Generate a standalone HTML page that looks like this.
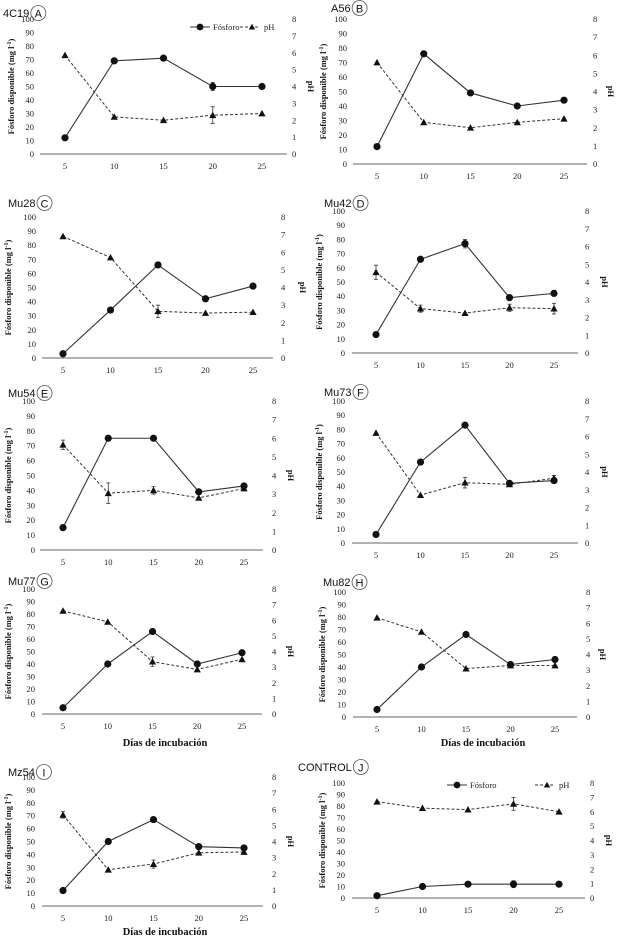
<!DOCTYPE html>
<html><head><meta charset="utf-8"><style>
html,body{margin:0;padding:0;background:#fff;}
svg{display:block;}
.t{font-family:"Liberation Serif",serif;font-size:8.5px;fill:#222;}
.ti{font-family:"Liberation Sans",sans-serif;font-size:11px;fill:#111;}
.ax{font-family:"Liberation Serif",serif;font-size:8.5px;font-weight:bold;fill:#111;}
.xl{font-family:"Liberation Serif",serif;font-size:10.5px;font-weight:bold;fill:#111;}
</style></head><body>
<svg id="fig" width="620" height="943" viewBox="0 0 620 943" xmlns="http://www.w3.org/2000/svg"></svg>
<script>
const days=[5,10,15,20,25];
const pTicks=[0,10,20,30,40,50,60,70,80,90,100];
const phTicks=[0,1,2,3,4,5,6,7,8];
const pA=[12,69,71,50,50];   const phA=[5.85,2.2,2.0,2.3,2.4];
const pB=[12,76,49,40,44];   const phB=[5.6,2.3,2.0,2.3,2.5];
const pC=[3,34,66,42,51];    const phC=[6.9,5.7,2.65,2.55,2.6];
const pD=[13,66,77,39,42];   const phD=[4.55,2.5,2.25,2.55,2.5];
const pE=[15,75,75,39,43];   const phE=[5.65,3.05,3.2,2.8,3.3];
const pF=[6,57,83,42,44];    const phF=[6.2,2.7,3.4,3.3,3.65];
const pG=[5,40,66,40,49];    const phG=[6.6,5.9,3.35,2.85,3.5];
const pH_=[6,40,66,42,46];   const phH=[6.35,5.45,3.1,3.3,3.3];
const pI=[12,50,67,46,45];   const phI=[5.65,2.25,2.6,3.3,3.35];
const pJ=[2,10,12,12,12];    const phJ=[6.7,6.25,6.15,6.55,6.0];
const errPA=[0,0,0,3,0];     const errPhA=[0,0,0,0.5,0];
const errPD=[0,0,3,0,2];     const errPhD=[0.4,0.2,0,0.2,0.3];
const errPhE=[0.25,0.55,0.2,0,0.1];
const errPhF=[0,0,0.3,0,0.15];
const errPhC=[0,0,0.35,0,0];
const errPhG=[0,0,0.3,0,0];
const errPhI=[0.2,0,0.25,0,0];
const errPJ=[0,0,0,3,0];     const errPhJ=[0,0,0,0.45,0];

const panels=[
 {id:'a',name:'4C19',L:'A',p:pA,ph:phA,ep:errPA,eh:errPhA,top:19,bot:154,x5:65,x25:262,axL:40,axR:287,lblL:34,lblR:292,yt:14,pht:308,tx:3,ty:17,legend:[190,27]},
 {id:'b',name:'A56',L:'B',p:pB,ph:phB,top:19,bot:164,x5:377,x25:564,axL:353,axR:587,lblL:347,lblR:593,yt:326,pht:608,tx:331,ty:12},
 {id:'c',name:'Mu28',L:'C',p:pC,ph:phC,eh:errPhC,top:217,bot:358,x5:63,x25:253,axL:42,axR:273,lblL:36,lblR:281,yt:11,pht:300,tx:8,ty:207},
 {id:'d',name:'Mu42',L:'D',p:pD,ph:phD,ep:errPD,eh:errPhD,top:211,bot:353,x5:376,x25:554,axL:352,axR:578,lblL:345,lblR:585,yt:322,pht:602,tx:324,ty:207},
 {id:'e',name:'Mu54',L:'E',p:pE,ph:phE,eh:errPhE,top:401,bot:550,x5:63,x25:244,axL:40,axR:263,lblL:35,lblR:272,yt:11,pht:288,tx:8,ty:397},
 {id:'f',name:'Mu73',L:'F',p:pF,ph:phF,eh:errPhF,top:401,bot:543,x5:376,x25:554,axL:352,axR:578,lblL:345,lblR:585,yt:322,pht:602,tx:324,ty:396},
 {id:'g',name:'Mu77',L:'G',p:pG,ph:phG,eh:errPhG,top:589,bot:714,x5:63,x25:242,axL:42,axR:262,lblL:35,lblR:272,yt:11,pht:288,tx:8,ty:585,xl:[165,746]},
 {id:'h',name:'Mu82',L:'H',p:pH_,ph:phH,top:592,bot:717,x5:377,x25:555,axL:353,axR:577,lblL:346,lblR:586,yt:325,pht:600,tx:323,ty:586,xl:[483,746]},
 {id:'i',name:'Mz54',L:'I',p:pI,ph:phI,eh:errPhI,top:777,bot:906,x5:63,x25:244,axL:42,axR:263,lblL:35,lblR:272,yt:11,pht:288,tx:8,ty:776,xl:[165,935]},
 {id:'j',name:'CONTROL',L:'J',p:pJ,ph:phJ,ep:errPJ,eh:errPhJ,top:783,bot:898,x5:377,x25:559,axL:352,axR:585,lblL:345,lblR:590,yt:325,pht:606,tx:298,ty:771,legend:[447,785]}
];
const NS='http://www.w3.org/2000/svg';
const svg=document.getElementById('fig');
function mk(tag,attrs,parent,text){const e=document.createElementNS(NS,tag);for(const k in attrs)e.setAttribute(k,attrs[k]);if(text!==undefined)e.textContent=text;(parent||svg).appendChild(e);return e;}
function tri(g,x,y,s){return mk('polygon',{points:`${x},${y-s} ${x-s},${y+s*0.8} ${x+s},${y+s*0.8}`,fill:'#111'},g);}

panels.forEach(P=>{
 const g=mk('g',{});
 
 
 const xs=d=>P.x5+(d-5)/20*(P.x25-P.x5);
 const yP=v=>P.bot-v/100*(P.bot-P.top);
 const yH=v=>P.bot-v/8*(P.bot-P.top);
 const tt=mk('text',{x:P.tx,y:P.ty,class:'ti'},g,P.name);
 
 
 let tw=tt.getComputedTextLength?tt.getComputedTextLength():P.name.length*7;
 const cx=P.tx+tw+9;
 const cy=P.ty-4;
 mk('circle',{cx:cx,cy:cy,r:7.5,fill:'none',stroke:'#555','stroke-width':0.8},g);
 const lt=mk('text',{x:cx,y:cy+4.5,'text-anchor':'middle',class:'ti','font-size':'12.5px'},g,P.L);
 
 
 const ax=mk('line',{x1:P.axL,x2:P.axR,y1:P.bot,y2:P.bot,stroke:'#666','stroke-width':1},g);
 
 
 pTicks.forEach(v=>{const e=mk('text',{x:P.lblL,y:yP(v)+3,'text-anchor':'end',class:'t'},g,String(v));
  
  });
 phTicks.forEach(v=>{const e=mk('text',{x:P.lblR,y:yH(v)+3,class:'t'},g,String(v));
  
  });
 days.forEach(d=>{const e=mk('text',{x:xs(d),y:P.bot+15,'text-anchor':'middle',class:'t'},g,String(d));
  
  });
 const mid=(P.top+P.bot)/2;
 const yt=mk('text',{x:P.yt,y:mid,'text-anchor':'middle',class:'ax',transform:`rotate(-90 ${P.yt} ${mid})`},g);
 
 
 yt.innerHTML='Fósforo disponible  (mg l<tspan dy="-3" font-size="6">-1</tspan><tspan dy="3">)</tspan>';
 const pt=mk('text',{x:P.pht,y:mid,'text-anchor':'middle',class:'ax',transform:`rotate(90 ${P.pht} ${mid})`},g,'pH');
 
 
 if(P.xl){const e=mk('text',{x:P.xl[0],y:P.xl[1],'text-anchor':'middle',class:'xl'},g,'Días de incubación');
  
  }
 const phl=mk('polyline',{points:days.map((d,i)=>xs(d)+','+yH(P.ph[i])).join(' '),fill:'none',stroke:'#333','stroke-width':1,'stroke-dasharray':'3,2'},g);
 
 
 const pl=mk('polyline',{points:days.map((d,i)=>xs(d)+','+yP(P.p[i])).join(' '),fill:'none',stroke:'#333','stroke-width':1.1},g);
 
 
 days.forEach((d,i)=>{
  const x=xs(d);
  if(P.eh&&P.eh[i]){const a=yH(P.ph[i]-P.eh[i]),b=yH(P.ph[i]+P.eh[i]);
   mk('line',{x1:x,x2:x,y1:a,y2:b,stroke:'#333','stroke-width':0.8},g);
   mk('line',{x1:x-2,x2:x+2,y1:a,y2:a,stroke:'#333','stroke-width':0.8},g);
   mk('line',{x1:x-2,x2:x+2,y1:b,y2:b,stroke:'#333','stroke-width':0.8},g);}
  if(P.ep&&P.ep[i]){const a=yP(P.p[i]-P.ep[i]),b=yP(P.p[i]+P.ep[i]);
   mk('line',{x1:x,x2:x,y1:a,y2:b,stroke:'#333','stroke-width':0.8},g);
   mk('line',{x1:x-2,x2:x+2,y1:a,y2:a,stroke:'#333','stroke-width':0.8},g);
   mk('line',{x1:x-2,x2:x+2,y1:b,y2:b,stroke:'#333','stroke-width':0.8},g);}
  const t=tri(g,x,yH(P.ph[i]),3.6);
  
  
  const c=mk('circle',{cx:x,cy:yP(P.p[i]),r:3.6,fill:'#111'},g);
  
  
 });
 if(P.legend){
  const [lx,ly]=P.legend;
  const lg=mk('g',{},g);
  
  
  mk('line',{x1:lx,x2:lx+20,y1:ly,y2:ly,stroke:'#333','stroke-width':1.1},lg);
  mk('circle',{cx:lx+10,cy:ly,r:3.4,fill:'#111'},lg);
  mk('text',{x:lx+23,y:ly+3,class:'t'},lg,'Fósforo');
  const dx=P.id==='j'?88:50;
  mk('line',{x1:lx+dx,x2:lx+dx+20,y1:ly,y2:ly,stroke:'#333','stroke-width':1,'stroke-dasharray':'3,2'},lg);
  tri(lg,lx+dx+12,ly,3.2);
  mk('text',{x:lx+dx+24,y:ly+3,class:'t'},lg,'pH');
 }
});
</script>
</body></html>
